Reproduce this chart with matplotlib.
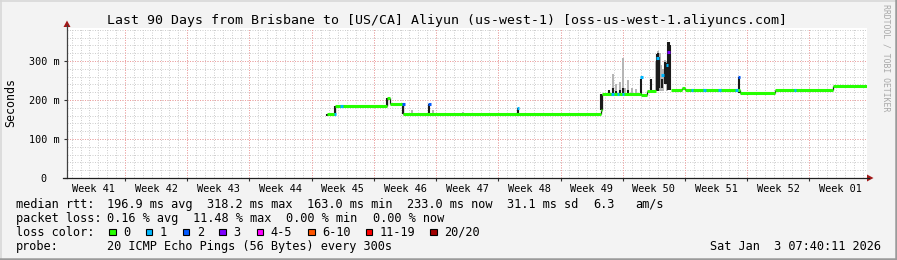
import numpy as np
import matplotlib
matplotlib.use("Agg")
import matplotlib.pyplot as plt
from matplotlib.patches import Rectangle, Polygon
from matplotlib.lines import Line2D

W, H = 897, 260

# x axis: days since the start of the 90 day window
week_names = ["Week 41", "Week 42", "Week 43", "Week 44", "Week 45", "Week 46", "Week 47",
              "Week 48", "Week 49", "Week 50", "Week 51", "Week 52", "Week 01"]
first_week_edge = 6.52

# median rtt (ms) with no loss -> green steps; None = gap (lossy stretch)
med_day = [29.2, 30.15, 35.97, 36.34, 37.83, 60.07, 60.2, 64.6, 65.2, 66.3, 67.9, 69.2, 69.5, 75.7, 79.65, 86.21, 90.0]
med_ms = [164, 185, 204, 190, 164, 175, 216, 214, 224, None, 225, 232, 225, 217, 225, 235, 235]

# dark smoke (ping spread) spikes
smoke_day = [29.2, 30.15, 35.97, 37.85, 40.78, 50.74, 60.07, 61.0, 61.4, 61.8, 62.2, 62.55, 63.1,
             64.6, 65.7, 66.4, 66.5, 66.65, 66.95, 67.25, 67.35, 67.55, 67.65, 67.75, 67.85, 75.6]
smoke_lo = [160, 164, 185, 164, 164, 164, 174, 216, 216, 216, 216, 216, 216,
            214, 224, 224, 224, 230, 230, 240, 240, 250, 225, 225, 225, 217]
smoke_hi = [165, 185, 204, 190, 191, 180, 216, 225, 230, 222, 225, 232, 225,
            253, 255, 318, 321, 310, 255, 298, 295, 290, 350, 350, 340, 260]

# light smoke
light_day = [38.78, 41.17, 44.55, 61.4, 61.8, 62.2, 62.55, 62.8, 63.1, 63.6, 64.0,
             66.3, 66.45, 66.7, 66.85, 67.1, 67.25, 67.45]
light_lo = [163, 163, 163, 216, 216, 216, 216, 216, 216, 216, 216,
            224, 224, 224, 224, 224, 240, 224]
light_hi = [174, 174, 170, 268, 240, 245, 307, 232, 251, 230, 228,
            300, 326, 320, 290, 280, 302, 300]

# median points with packet loss: day, ms, loss colour index
loss_day = [30.15, 30.9, 37.83, 40.78, 50.74, 61.4, 62.0, 62.55, 64.6, 66.45, 67.0, 67.5, 67.7,
            70.3, 71.7, 73.4, 75.35, 75.6, 81.9]
loss_ms = [164, 185, 190, 191, 180, 216, 216, 216, 260, 307, 265, 290, 322,
           225, 225, 225, 226, 260, 225]
loss_lvl = [1, 1, 2, 2, 1, 1, 1, 1, 1, 1, 1, 1, 3, 1, 1, 1, 1, 2, 1]

loss_labels = ["0", "1", "2", "3", "4-5", "6-10", "11-19", "20/20"]
loss_colors = ["#26ff00", "#00b8ff", "#0059ff", "#7e00ff", "#ff00ff", "#ff5500", "#ff0000", "#a10000"]

y_ticks = [0, 100, 200, 300]
y_tick_labels = ["0  ", "100 m", "200 m", "300 m"]

mono = "DejaVu Sans Mono"
plt.rcParams["font.family"] = mono

fig = plt.figure(figsize=(W / 100, H / 100), dpi=100)
fig.patch.set_facecolor("#f3f3f3")

ax = fig.add_axes([67 / W, (H - 178) / H, 800 / W, 150.5 / H])
ax.set_facecolor("white")
ax.set_xlim(0, 90)
ax.set_ylim(0, 386)
for s in ax.spines.values():
    s.set_visible(False)

# grid
minor_days = np.arange(first_week_edge - 6, 90, 1.0)
week_edges = np.arange(first_week_edge, 90, 7.0)
ax.vlines(minor_days, 0, 386, colors="#cfcfcf", linewidth=0.72, linestyles=(0, (1, 1.5)), zorder=1)
ax.hlines(np.arange(20, 386, 20), 0, 90, colors="#cfcfcf", linewidth=0.72, linestyles=(0, (1, 1.5)), zorder=1)
ax.vlines(week_edges, 0, 386, colors="#f2a0a0", linewidth=0.72, linestyles=(0, (1, 1.5)), zorder=2)
ax.hlines([100, 200, 300], 0, 90, colors="#f2a0a0", linewidth=0.72, linestyles=(0, (1, 1.5)), zorder=2)

# smoke
ax.vlines(light_day, light_lo, light_hi, colors="#b4b4b4", linewidth=1.4, zorder=3)
ax.vlines(smoke_day, smoke_lo, smoke_hi, colors="#1a1a1a", linewidth=1.5, zorder=4)

# median line (black step edges, thick green flats)
for i in range(len(med_day) - 1):
    if med_ms[i] is None:
        continue
    ax.hlines(med_ms[i], med_day[i], med_day[i + 1], colors=loss_colors[0], linewidth=2.2, zorder=5)
    if med_ms[i + 1] is not None:
        ax.vlines(med_day[i + 1], min(med_ms[i], med_ms[i + 1]), max(med_ms[i], med_ms[i + 1]),
                  colors="#1a1a1a", linewidth=0.9, zorder=4)

for d, v, l in zip(loss_day, loss_ms, loss_lvl):
    ax.hlines(v, d - 0.15, d + 0.15, colors=loss_colors[l], linewidth=2.2, zorder=6)

# ticks and labels
ax.set_xticks(week_edges)
ax.set_xticklabels([])
ax.set_xticks(np.arange(len(week_names)) * 7 + first_week_edge - 3.5, minor=True)
ax.set_xticklabels(week_names, minor=True, fontsize=7.4)
ax.tick_params(axis="x", which="major", length=2.5, width=0.8, color="#333333", direction="out")
ax.tick_params(axis="x", which="minor", length=0, pad=4.5)
ax.set_yticks(y_ticks)
ax.set_yticklabels(y_tick_labels, fontsize=7.3)
ax.tick_params(axis="y", length=2.5, width=0.8, color="#333333", direction="out", pad=2.8)

fig.text(10.5 / W, 1 - 103 / H, "Seconds", rotation=90, ha="center", va="center", fontsize=8.4)

# axes lines with arrows
fig.add_artist(Line2D([67 / W, 67 / W], [1 - 178 / H, 1 - 25 / H], color="#404040", linewidth=0.9))
fig.add_artist(Line2D([63 / W, 869 / W], [1 - 178 / H, 1 - 178 / H], color="#202020", linewidth=0.9))
fig.add_artist(Polygon([[63.5 / W, 1 - 27 / H], [70.5 / W, 1 - 27 / H], [67 / W, 1 - 20.5 / H]],
                       closed=True, facecolor="#a31818", edgecolor="none"))
fig.add_artist(Polygon([[867 / W, 1 - 174.5 / H], [867 / W, 1 - 181.5 / H], [873.5 / W, 1 - 178 / H]],
                       closed=True, facecolor="#a31818", edgecolor="none"))

fig.text(446.5 / W, 1 - 24 / H,
         "Last 90 Days from Brisbane to [US/CA] Aliyun (us-west-1) [oss-us-west-1.aliyuncs.com]",
         ha="center", va="baseline", fontsize=9.5)

fig.text(886 / W, 1 - 4 / H, "RRDTOOL / TOBI OETIKER", rotation=270, ha="center", va="top",
         fontsize=5.9, color="#a8a8a8")

# legend
lg = 8.55
row1 = [(16, "median rtt:"), (107, "196.9 ms avg"), (207, "318.2 ms max"), (307, "163.0 ms min"),
        (407, "233.0 ms now"), (507, "31.1 ms sd"), (593, "6.3"), (635, "am/s")]
row2 = [(16, "packet loss:"), (107, "0.16 % avg"), (193, "11.48 % max"), (286, "0.00 % min"),
        (373, "0.00 % now")]
for x, t in row1:
    fig.text(x / W, 1 - 207.7 / H, t, ha="left", va="baseline", fontsize=lg)
for x, t in row2:
    fig.text(x / W, 1 - 221.8 / H, t, ha="left", va="baseline", fontsize=lg)

fig.text(16 / W, 1 - 235.9 / H, "loss color:", ha="left", va="baseline", fontsize=lg)
swatch_x = [109, 145.7, 182.7, 219.3, 256.7, 308.3, 365.7, 430]
for x, lab, c in zip(swatch_x, loss_labels, loss_colors):
    fig.add_artist(Rectangle((x / W, 1 - 235 / H), 6.5 / W, 6.5 / H, transform=fig.transFigure,
                             facecolor=c, edgecolor="black", linewidth=0.8))
    fig.text((x + 14) / W, 1 - 235.9 / H, lab, ha="left", va="baseline", fontsize=lg)

fig.text(16 / W, 1 - 250 / H, "probe:", ha="left", va="baseline", fontsize=lg)
fig.text(107 / W, 1 - 250 / H, "20 ICMP Echo Pings (56 Bytes) every 300s", ha="left", va="baseline", fontsize=lg)
fig.text(881 / W, 1 - 250 / H, "Sat Jan  3 07:40:11 2026", ha="right", va="baseline", fontsize=lg)

# frame shading
fig.add_artist(Line2D([0, 1], [1 - 0.5 / H, 1 - 0.5 / H], color="#d8d8d8", linewidth=1.2))
fig.add_artist(Line2D([0.5 / W, 0.5 / W], [0, 1], color="#d8d8d8", linewidth=1.2))
fig.add_artist(Line2D([0, 1], [1.2 / H, 1.2 / H], color="#9a9a9a", linewidth=1.8))
fig.add_artist(Line2D([1 - 1.2 / W, 1 - 1.2 / W], [0, 1], color="#9a9a9a", linewidth=1.8))

fig.savefig("out.png", dpi=100, facecolor=fig.get_facecolor())
